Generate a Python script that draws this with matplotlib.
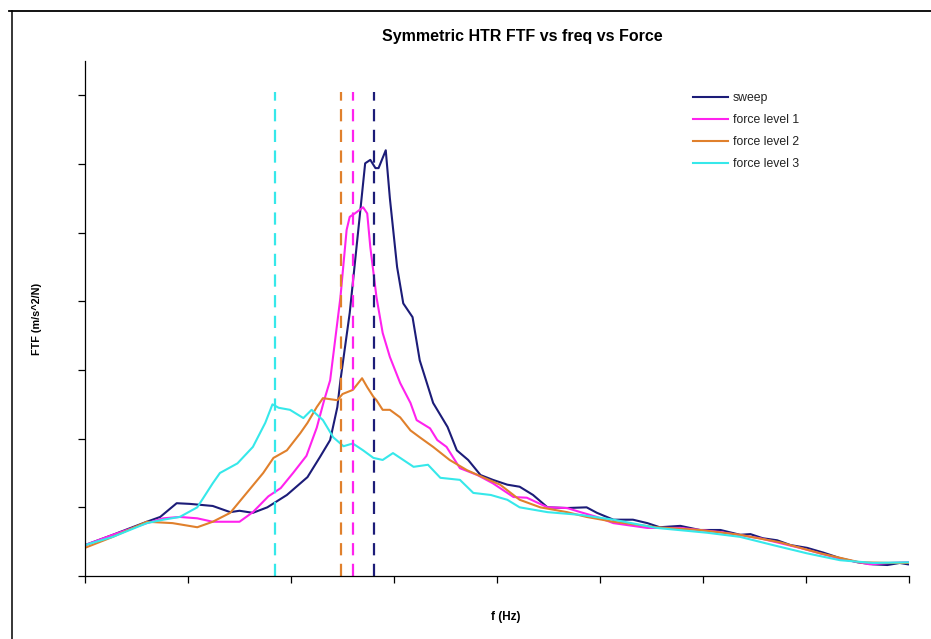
import matplotlib
matplotlib.use("Agg")
import matplotlib.pyplot as plt
from matplotlib.lines import Line2D

plt.rcParams['font.family'] = ['Liberation Sans', 'DejaVu Sans']

# ---- data (x: frequency, arbitrary Hz units; y: FTF) ----
sweep_f = [0, 2.7, 6.0, 7.3, 8.9, 10.2, 12.4, 14.1, 15.0, 16.3, 17.7, 19.6, 21.6, 22.8, 23.8, 24.5,
           24.8, 25.7, 26.7, 27.2, 27.7, 28.2, 28.5, 29.2, 29.6, 30.3, 30.9, 31.8, 32.5, 33.8, 35.2,
           36.1, 37.2, 38.4, 39.6, 41.0, 42.2, 43.5, 44.9, 46.8, 48.7, 49.7, 51.3, 53.2, 54.6, 55.8,
           57.8, 59.7, 61.7, 63.6, 64.6, 65.8, 67.2, 68.5, 70.1, 71.7, 73.3, 75.0, 76.5, 77.9, 79.1, 79.9]
sweep_y = [0.45, 0.60, 0.79, 0.86, 1.06, 1.05, 1.02, 0.93, 0.95, 0.92, 1.00, 1.18, 1.44, 1.73, 1.98, 2.46,
           2.85, 3.83, 5.28, 6.01, 6.06, 5.94, 5.94, 6.20, 5.50, 4.50, 3.97, 3.77, 3.14, 2.52, 2.17,
           1.83, 1.69, 1.47, 1.40, 1.33, 1.30, 1.18, 1.00, 0.99, 1.00, 0.92, 0.82, 0.82, 0.77, 0.71,
           0.73, 0.67, 0.67, 0.60, 0.61, 0.55, 0.52, 0.45, 0.41, 0.34, 0.26, 0.20, 0.17, 0.16, 0.19, 0.17]

f1_f = [0, 2.7, 6.0, 7.6, 9.2, 10.9, 12.4, 15.0, 16.3, 17.8, 19.0, 20.2, 21.5, 22.5, 23.2, 23.8,
        24.8, 25.4, 25.7, 26.2, 27.0, 27.4, 27.7, 28.3, 28.9, 29.6, 30.6, 31.6, 32.2, 33.5, 34.2,
        35.1, 36.4, 38.1, 39.6, 41.6, 42.9, 44.9, 46.8, 48.1, 49.7, 51.3, 54.6, 57.8, 61.7, 65.5,
        69.4, 73.3, 76.2, 78.2, 80.0]
f1_y = [0.45, 0.60, 0.77, 0.84, 0.86, 0.84, 0.79, 0.79, 0.93, 1.16, 1.28, 1.50, 1.75, 2.16, 2.55, 2.85,
        4.06, 5.04, 5.23, 5.28, 5.37, 5.28, 4.79, 4.06, 3.54, 3.19, 2.81, 2.52, 2.27, 2.15, 1.98,
        1.88, 1.57, 1.47, 1.35, 1.15, 1.14, 1.00, 0.99, 0.93, 0.86, 0.77, 0.70, 0.70, 0.64, 0.55,
        0.41, 0.25, 0.17, 0.19, 0.20]

f2_f = [0, 2.7, 6.0, 8.5, 10.9, 12.4, 14.1, 15.7, 17.3, 18.3, 19.6, 20.9, 21.6, 22.5, 23.1, 24.5,
        25.0, 26.0, 26.9, 27.4, 28.0, 28.3, 28.9, 29.6, 30.6, 31.6, 32.5, 33.8, 35.4, 37.1, 38.6,
        40.3, 42.2, 44.2, 46.8, 48.7, 51.3, 55.5, 59.7, 63.6, 67.5, 71.4, 75.2, 78.2, 80.0]
f2_y = [0.41, 0.57, 0.79, 0.77, 0.71, 0.79, 0.92, 1.21, 1.50, 1.72, 1.83, 2.08, 2.23, 2.46, 2.59, 2.56,
        2.65, 2.71, 2.88, 2.75, 2.61, 2.56, 2.42, 2.42, 2.31, 2.12, 2.02, 1.88, 1.69, 1.54, 1.44,
        1.33, 1.11, 1.00, 0.93, 0.86, 0.79, 0.71, 0.67, 0.60, 0.49, 0.33, 0.20, 0.19, 0.19]

f3_f = [0, 2.7, 6.0, 7.6, 9.2, 10.9, 12.4, 13.1, 14.8, 16.3, 17.5, 18.2, 18.8, 19.9, 21.2, 22.0,
        23.1, 24.1, 25.1, 26.0, 27.0, 28.0, 28.9, 29.9, 31.9, 33.3, 34.5, 36.4, 37.7, 39.4, 41.0,
        42.2, 44.9, 48.1, 51.3, 55.5, 60.4, 63.6, 66.8, 70.1, 73.3, 76.5, 80.0]
f3_y = [0.45, 0.57, 0.77, 0.82, 0.86, 1.00, 1.35, 1.50, 1.64, 1.88, 2.23, 2.50, 2.45, 2.42, 2.30, 2.42,
        2.27, 2.02, 1.89, 1.93, 1.83, 1.72, 1.69, 1.79, 1.59, 1.62, 1.43, 1.40, 1.21, 1.18, 1.11,
        1.00, 0.93, 0.89, 0.82, 0.70, 0.63, 0.57, 0.45, 0.33, 0.23, 0.19, 0.20]

# resonance frequency markers (dashed verticals)
res_f = [28.1, 26.0, 24.9, 18.4]
res_top = 7.05

labels = ["sweep", "force level 1", "force level 2", "force level 3"]
colors = ["#1c1c78", "#ff22ee", "#e0802c", "#36e8ea"]

x_ticks = [0, 10, 20, 30, 40, 50, 60, 70, 80]
y_ticks = [0, 1, 2, 3, 4, 5, 6, 7]

# ---- figure ----
fig = plt.figure(figsize=(9.31, 6.39), dpi=100)
ax = fig.add_axes([85 / 931, 1 - 576 / 639, (909 - 85) / 931, (576 - 61) / 639])

series = [(sweep_f, sweep_y), (f1_f, f1_y), (f2_f, f2_y), (f3_f, f3_y)]
for (fx, fy), c, lab in zip(series, colors, labels):
    ax.plot(fx, fy, color=c, lw=1.5, label=lab, solid_joinstyle='round')

for fr, c in zip(res_f, colors):
    ax.plot([fr, fr], [0, res_top], color=c, lw=1.6, linestyle=(0, (5.5, 3.8)))

ax.set_xlim(0, 80)
ax.set_ylim(0, 7.5)
ax.set_xticks(x_ticks)
ax.set_yticks(y_ticks)
ax.tick_params(axis='both', direction='out', length=5, width=0.9, color='black',
               labelbottom=False, labelleft=False)
for s in ['top', 'right']:
    ax.spines[s].set_visible(False)
for s in ['left', 'bottom']:
    ax.spines[s].set_linewidth(0.9)
    ax.spines[s].set_color('black')

leg = ax.legend(loc='upper left', bbox_to_anchor=(693 / 931, 1 - 92 / 639),
                bbox_transform=fig.transFigure, frameon=False, fontsize=8.8,
                handlelength=2.85, handletextpad=0.4, labelspacing=0.83,
                borderpad=0, borderaxespad=0)
for t in leg.get_texts():
    t.set_color('#222222')

fig.text(522 / 931, 1 - 37 / 639, "Symmetric HTR FTF vs freq vs Force",
         ha='center', va='center', fontsize=11.5, fontweight='bold')
fig.text(37 / 931, 1 - 319 / 639, "FTF (m/s^2/N)", rotation=90,
         ha='center', va='center', fontsize=7.8, fontweight='bold')
fig.text(506 / 931, 1 - 617 / 639, "f (Hz)", ha='center', va='center',
         fontsize=8.5, fontweight='bold')

# outer chart frame (top and left edges visible)
fig.add_artist(Line2D([9 / 931, 1.0], [1 - 11 / 639, 1 - 11 / 639],
                      transform=fig.transFigure, color='black', lw=1.3))
fig.add_artist(Line2D([12 / 931, 12 / 931], [0.0, 1 - 11 / 639],
                      transform=fig.transFigure, color='black', lw=1.1))

fig.savefig("out.png", dpi=100)
